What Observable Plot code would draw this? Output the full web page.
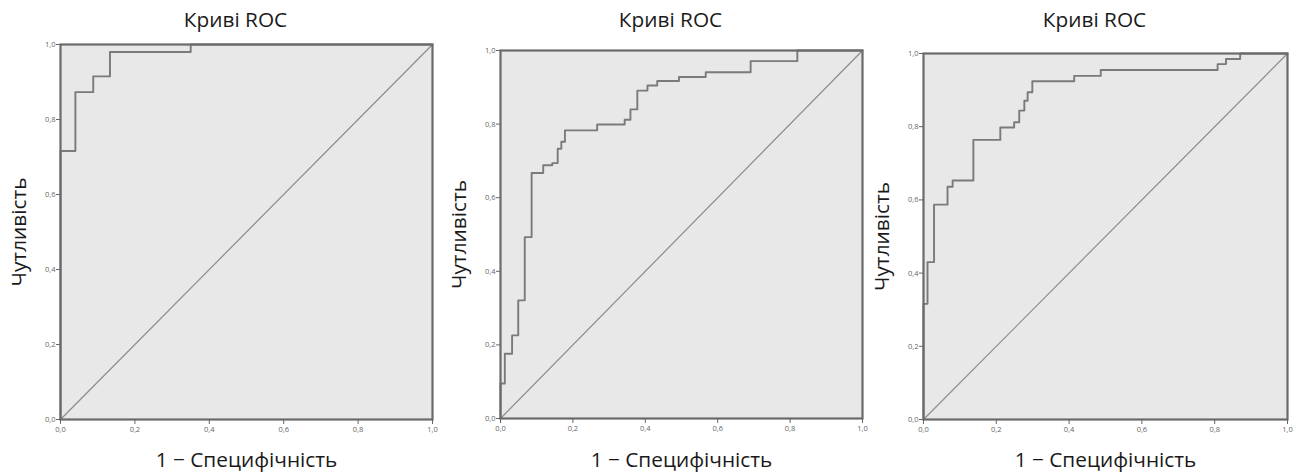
<!DOCTYPE html>
<html>
<head>
<meta charset="utf-8">
<script src="https://cdn.jsdelivr.net/npm/d3@7"></script>
<script src="https://cdn.jsdelivr.net/npm/@observablehq/plot@0.6"></script>
<style>
  html, body { margin: 0; padding: 0; background: #fff; }
  #wrap { position: relative; width: 1299px; height: 474px; overflow: hidden; }
  #wrap svg { position: absolute; top: 0; }
</style>
</head>
<body>
<div id="wrap"></div>
<script>
// ---- data ----
const titleText = "Криві ROC";
const xLabel = "1 − Специфічність";
const yLabel = "Чутливість";
const tickValues = [0, 0.2, 0.4, 0.6, 0.8, 1.0];
const tickLabels = ["0,0", "0,2", "0,4", "0,6", "0,8", "1,0"];

// ROC curve 1 (step points: FPR, TPR)
const fpr1 = [0, 0, 0.040, 0.088, 0.133, 0.350, 1];
const tpr1 = [0, 0.716, 0.873, 0.915, 0.980, 1.000, 1];

// ROC curve 2
const fpr2 = [0, 0, 0.012, 0.032, 0.049, 0.067, 0.086, 0.118, 0.143, 0.158, 0.168, 0.178, 0.267, 0.343, 0.359, 0.378, 0.406, 0.433, 0.493, 0.567, 0.691, 0.820, 1];
const tpr2 = [0, 0.095, 0.176, 0.226, 0.321, 0.493, 0.667, 0.688, 0.694, 0.733, 0.752, 0.783, 0.799, 0.812, 0.840, 0.891, 0.905, 0.917, 0.928, 0.941, 0.971, 1.000, 1];

// ROC curve 3
const fpr3 = [0, 0, 0.011, 0.029, 0.066, 0.080, 0.137, 0.211, 0.249, 0.263, 0.277, 0.286, 0.299, 0.414, 0.487, 0.808, 0.831, 0.870, 1];
const tpr3 = [0, 0.316, 0.430, 0.587, 0.636, 0.653, 0.764, 0.798, 0.812, 0.844, 0.871, 0.894, 0.924, 0.939, 0.955, 0.971, 0.985, 1.000, 1];

// reference diagonal
const diagX = [0, 1];
const diagY = [0, 1];

// ---- layout per panel ----
const panels = [
  {fpr: fpr1, tpr: tpr1, left: 0,   width: 440, ml: 60, mr: 8,  mt: 44, mb: 55},
  {fpr: fpr2, tpr: tpr2, left: 440, width: 440, ml: 60, mr: 18, mt: 50, mb: 56},
  {fpr: fpr3, tpr: tpr3, left: 880, width: 419, ml: 43, mr: 12, mt: 53, mb: 55}
];

const font = "'Open Sans', 'Noto Sans', sans-serif";
const wrap = document.getElementById("wrap");
const fmt = d => tickLabels[tickValues.findIndex(v => Math.abs(v - d) < 1e-9)];

for (const p of panels) {
  const curve = p.fpr.map((x, i) => ({x, y: p.tpr[i]}));
  const diag = diagX.map((x, i) => ({x, y: diagY[i]}));
  const plotBottom = 474 - p.mb;
  const chart = Plot.plot({
    width: p.width,
    height: 474,
    marginLeft: p.ml,
    marginRight: p.mr,
    marginTop: p.mt,
    marginBottom: p.mb,
    style: {fontFamily: font, background: "transparent", overflow: "visible"},
    x: {domain: [0, 1]},
    y: {domain: [0, 1]},
    marks: [
      Plot.frame({fill: "#e8e8e8", stroke: null}),
      Plot.line(diag, {x: "x", y: "y", stroke: "#8c8c8c", strokeWidth: 1.2}),
      Plot.line(curve, {x: "x", y: "y", curve: "step-after", stroke: "#7a7a7a", strokeWidth: 1.9}),
      Plot.frame({stroke: "#6a6a6a", strokeWidth: 2.2}),
      Plot.axisX({ticks: tickValues, tickFormat: fmt, tickSize: 5, tickPadding: 2, fontSize: 7.5, color: "#666", label: null}),
      Plot.axisY({ticks: tickValues, tickFormat: fmt, tickSize: 4, tickPadding: 1, fontSize: 7.5, color: "#666", label: null}),
      Plot.text([titleText], {frameAnchor: "top", lineAnchor: "middle", dy: 20 - p.mt, dx: -11, fontSize: 20.8, fill: "#1a1a1a", fontFamily: font}),
      Plot.text([xLabel], {frameAnchor: "bottom", lineAnchor: "middle", dy: 460 - plotBottom, fontSize: 20.8, fill: "#1a1a1a", fontFamily: font}),
      Plot.text([yLabel], {frameAnchor: "left", textAnchor: "middle", lineAnchor: "middle", dx: -41, rotate: -90, fontSize: 20.8, fill: "#1a1a1a", fontFamily: font})
    ]
  });
  chart.style.left = p.left + "px";
  wrap.appendChild(chart);
}
</script>
</body>
</html>
